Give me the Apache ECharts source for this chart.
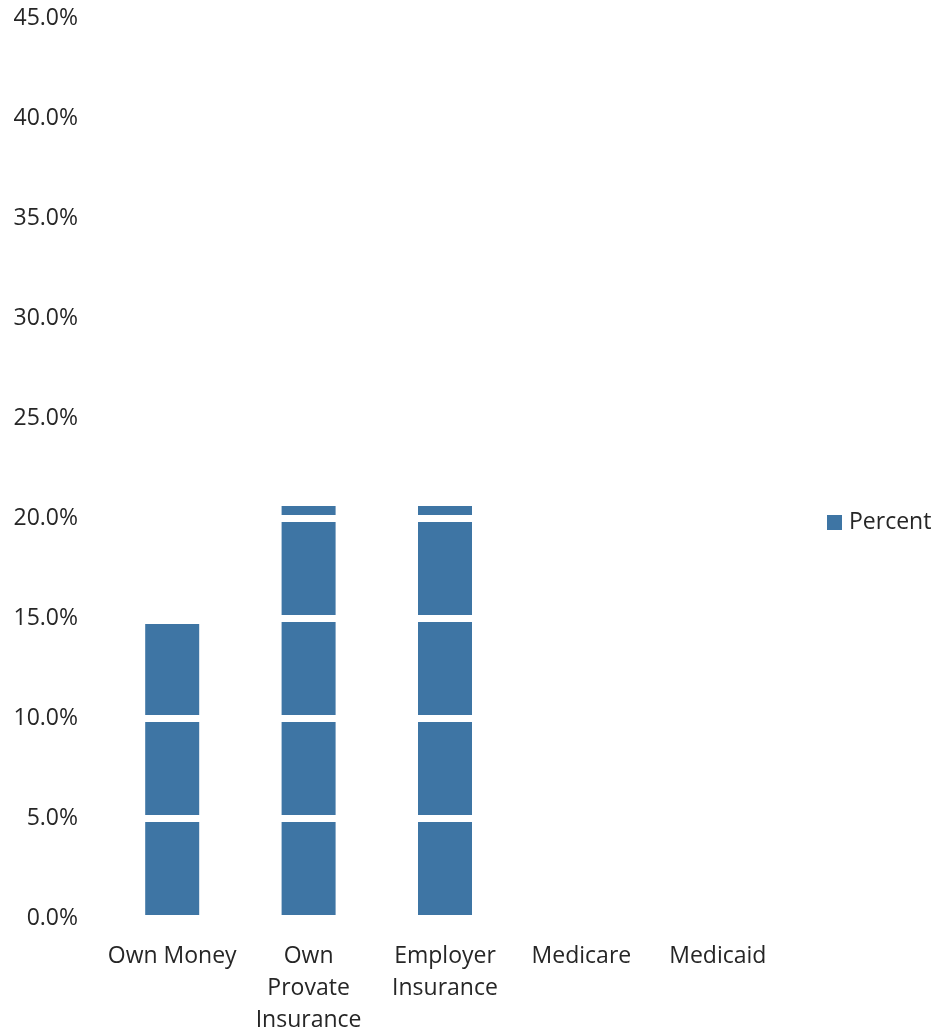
<!DOCTYPE html>
<html>
<head>
<meta charset="utf-8">
<script src="https://cdn.jsdelivr.net/npm/echarts@6/dist/echarts.min.js"></script>
<style>html,body{margin:0;padding:0;background:#fff;}#c{width:940px;height:1036px;}</style>
</head>
<body>
<div id="c"></div>
<script>
var categories = ['Own Money', 'Own Provate Insurance', 'Employer Insurance', 'Medicare', 'Medicaid'];
var categoryLabels = ['Own Money', 'Own\nProvate\nInsurance', 'Employer\nInsurance', 'Medicare', 'Medicaid'];
var percentValues = [14.7, 20.6, 20.6, 0, 0];
var seriesName = 'Percent';

var chart = echarts.init(document.getElementById('c'));
var font = '"Open Sans", "Liberation Sans", sans-serif';
chart.setOption({
  animation: false,
  backgroundColor: '#ffffff',
  grid: { left: 104, right: 154, top: 18, bottom: 114, containLabel: false },
  legend: {
    left: 822, top: 506,
    itemWidth: 15, itemHeight: 15,
    icon: 'rect',
    textStyle: { fontFamily: font, fontSize: 23, color: '#262626', padding: [0, 0, 0, 2] },
    data: [seriesName]
  },
  xAxis: {
    type: 'category',
    data: categories,
    axisLine: { show: false },
    axisTick: { show: false },
    axisLabel: {
      fontFamily: font, fontSize: 23, color: '#262626', lineHeight: 32, margin: 22,
      interval: 0,
      formatter: function (v, i) { return categoryLabels[i]; }
    }
  },
  yAxis: {
    type: 'value',
    min: 0, max: 45, interval: 5,
    z: 5,
    axisLine: { show: false },
    axisTick: { show: false },
    splitLine: { show: true, lineStyle: { color: '#ffffff', width: 7 } },
    axisLabel: {
      fontFamily: font, fontSize: 23, color: '#262626', margin: 26,
      formatter: function (v) { return v.toFixed(1) + '%'; }
    }
  },
  series: [{
    name: seriesName,
    type: 'bar',
    data: percentValues,
    barWidth: 54,
    itemStyle: { color: '#3e75a4' },
    z: 2
  }]
});
</script>
</body>
</html>
